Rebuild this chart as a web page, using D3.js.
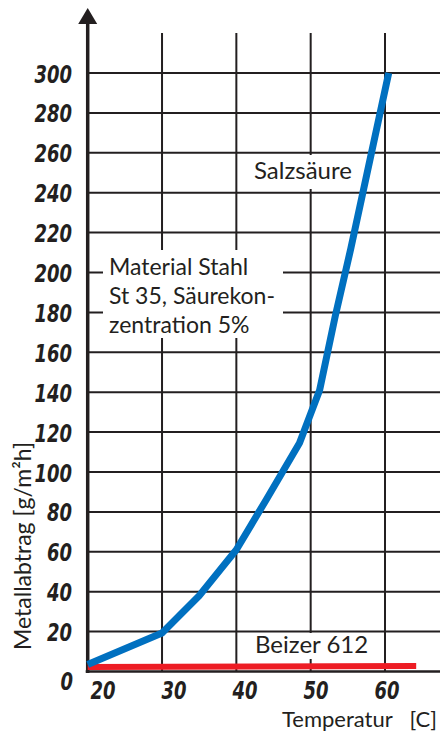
<!DOCTYPE html>
<html>
<head>
<meta charset="utf-8">
<script src="https://cdn.jsdelivr.net/npm/d3@7"></script>
<style>
  html, body { margin: 0; padding: 0; background: #fff; }
  svg { display: block; }
</style>
</head>
<body>
<script>
// ---- data ----
const temperatures = [20, 30, 35, 40, 44, 48.5, 51.2, 53.3, 55.4, 60.5];
const salzsaeure   = [3.5, 19.3, 38, 61, 86, 114.5, 141, 178, 212, 300];
const beizerTemps  = [20, 64.2];
const beizer612    = [2.2, 2.8];
const yTicks = [0, 20, 40, 60, 80, 100, 120, 140, 160, 180, 200, 220, 240, 260, 280, 300];
const xTicks = [20, 30, 40, 50, 60];
const yTitle = "Metallabtrag [g/m²h]";
const xTitleParts = ["Temperatur", "[C]"];
const noteLines = ["Material Stahl", "St 35, Säurekon-", "zentration 5%"];
const seriesLabels = ["Salzsäure", "Beizer 612"];

// ---- layout ----
const W = 440, H = 740;
const ink = "#231f20";
const textFont = "Lato, 'Open Sans', sans-serif";
const tickFont = "'DejaVu Sans Condensed', 'DejaVu Sans', sans-serif";

const x = d3.scaleLinear().domain([20, 60]).range([87.7, 385]);
const y = d3.scaleLinear().domain([0, 300]).range([671.5, 73]);
const xLab = d3.scaleLinear().domain([20, 60]).range([103, 387]);

const svg = d3.select("body").append("svg").attr("width", W).attr("height", H);

// grid
const grid = svg.append("g").attr("stroke", ink).attr("stroke-width", 2);
grid.selectAll("line.h").data(yTicks.filter(d => d > 0)).join("line")
  .attr("x1", x(20)).attr("x2", W).attr("y1", d => y(d)).attr("y2", d => y(d));
grid.selectAll("line.v").data(xTicks.filter(d => d > 20)).join("line")
  .attr("y1", y(320)).attr("y2", y(0)).attr("x1", d => x(d)).attr("x2", d => x(d));

// white label boxes
const boxes = [
  {x0: 103, y0: 250, x1: 283, y1: 338},
  {x0: 238, y0: 155, x1: 364, y1: 189},
  {x0: 250, y0: 633, x1: 375, y1: 659}
];
svg.selectAll("rect.box").data(boxes).join("rect")
  .attr("x", d => d.x0).attr("y", d => d.y0)
  .attr("width", d => d.x1 - d.x0).attr("height", d => d.y1 - d.y0)
  .attr("fill", "#fff");

// bottom axis line
svg.append("line").attr("x1", x(20) - 2).attr("x2", W)
  .attr("y1", y(0)).attr("y2", y(0)).attr("stroke", ink).attr("stroke-width", 2.5);

// y axis line + arrow
svg.append("line").attr("x1", x(20)).attr("x2", x(20))
  .attr("y1", y(0) + 1.5).attr("y2", 22).attr("stroke", ink).attr("stroke-width", 3.5);
svg.append("path")
  .attr("d", `M${x(20) - 9.5},24 L${x(20)},8 L${x(20) + 9.5},24 Z`)
  .attr("fill", ink);

// series lines
const lineGen = d3.line().x(d => x(d[0])).y(d => y(d[1]));
svg.append("path")
  .datum(beizerTemps.map((t, i) => [t, beizer612[i]]))
  .attr("d", lineGen).attr("fill", "none")
  .attr("stroke", "#ed1c24").attr("stroke-width", 6);
svg.append("path")
  .datum(temperatures.map((t, i) => [t, salzsaeure[i]]))
  .attr("d", lineGen).attr("fill", "none")
  .attr("stroke", "#0070c0").attr("stroke-width", 7)
  .attr("stroke-linejoin", "round");

// y tick labels
svg.selectAll("text.yt").data(yTicks).join("text")
  .attr("transform", d => `translate(${d === 0 ? 73 : 72},${d === 0 ? 690 : y(d) + 9.5}) scale(0.8,1)`)
  .attr("text-anchor", "end")
  .attr("font-family", tickFont).attr("font-weight", "bold").attr("font-style", "italic")
  .attr("font-size", 25).attr("fill", ink)
  .text(d => d);

// x tick labels
svg.selectAll("text.xt").data(xTicks).join("text")
  .attr("transform", d => `translate(${xLab(d)},699) scale(0.8,1)`)
  .attr("text-anchor", "middle")
  .attr("font-family", tickFont).attr("font-weight", "bold").attr("font-style", "italic")
  .attr("font-size", 25).attr("fill", ink)
  .text(d => d);

// titles
svg.append("text")
  .attr("transform", "translate(31,546) rotate(-90)")
  .attr("text-anchor", "middle")
  .attr("font-family", textFont).attr("font-size", 23).attr("fill", ink)
  .text(yTitle);
const xt = svg.append("text")
  .attr("y", 727)
  .attr("font-family", textFont).attr("font-size", 22).attr("fill", ink);
xt.append("tspan").attr("x", 282).text(xTitleParts[0] + " ");
xt.append("tspan").attr("x", 437).attr("text-anchor", "end").text(xTitleParts[1]);

// annotation
svg.selectAll("text.note").data(noteLines).join("text")
  .attr("x", 109).attr("y", (d, i) => 275 + i * 29)
  .attr("font-family", textFont).attr("font-size", 23).attr("fill", ink)
  .text(d => d);
svg.append("text").attr("x", 254).attr("y", 179)
  .attr("font-family", textFont).attr("font-size", 24).attr("fill", ink)
  .text(seriesLabels[0]);
svg.append("text").attr("x", 255).attr("y", 653)
  .attr("font-family", textFont).attr("font-size", 24).attr("fill", ink)
  .text(seriesLabels[1]);
</script>
</body>
</html>
